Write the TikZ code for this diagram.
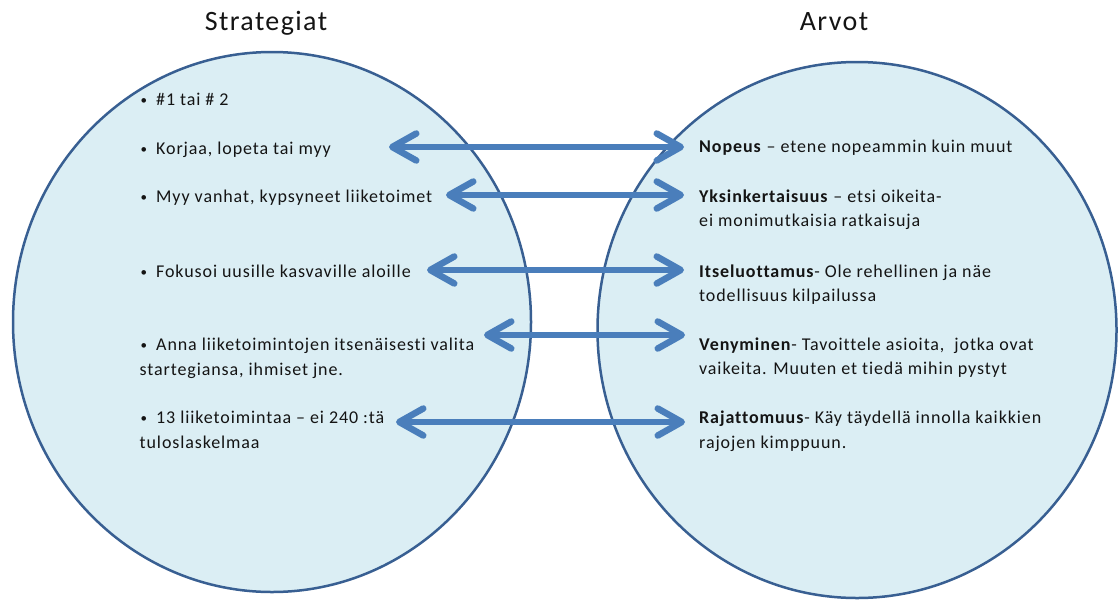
\documentclass[tikz,border=0pt]{standalone}
\usepackage{fontspec}
\setmainfont{Carlito}[LetterSpace=5,Ligatures=NoCommon]
\usetikzlibrary{arrows.meta,shapes.geometric}
\definecolor{bubblefill}{HTML}{DBEEF4}
\definecolor{bubbleedge}{HTML}{385F92}
\definecolor{linkblue}{HTML}{4A7EBB}
\definecolor{ink}{HTML}{141414}
% small bullet followed by a fixed gap before the item text
\newcommand\itembullet{\makebox[16.5pt][l]{\hspace{1pt}\fontsize{13}{13}\selectfont\raisebox{1pt}{\textbullet}}}
\begin{document}
\begin{tikzpicture}[x=1pt,y=-1pt,
  bubble/.style={ellipse, draw=bubbleedge, fill=bubblefill, line width=2.5pt, inner sep=0pt},
  heading/.style={font=\fontsize{28}{32}\selectfont, anchor=base, inner sep=0pt, text=ink},
  entry/.style={font=\fontsize{18}{24.5}\selectfont, anchor=base west, inner sep=0pt, text=ink},
  linktip/.tip={Straight Barb[length=24pt,width=27pt,round]},
  link/.style={draw=linkblue, line width=6.5pt, {linktip}-{linktip}},
]
\useasboundingbox (0,0) rectangle (1118,600);

% the two circles
\node[bubble, minimum width=518pt, minimum height=540pt] (strategies) at (272,322) {};
\node[bubble, minimum width=519pt, minimum height=536pt] (values) at (857,330) {};

% headings
\node[heading] (headS) at (266,30) {Strategiat};
\node[heading] (headA) at (834,30) {Arvot};

% strategies
\node[entry] (s0) at (139.5,105) {\itembullet\#1 tai \# 2};
\node[entry] (s1) at (139.5,154) {\itembullet Korjaa, lopeta tai myy};
\node[entry] (s2) at (139.5,202.5) {\itembullet Myy vanhat, kypsyneet liiketoimet};
\node[entry] (s3) at (139.5,277) {\itembullet Fokusoi uusille kasvaville aloille};
\node[entry] (s4) at (139.5,350.5) {\begin{tabular}[t]{@{}l@{}}\itembullet Anna liiketoimintojen itsenäisesti valita\\startegiansa, ihmiset jne.\end{tabular}};
\node[entry] (s5) at (139.5,423.5) {\begin{tabular}[t]{@{}l@{}}\itembullet 13 liiketoimintaa – ei 240 :tä\\tuloslaskelmaa\end{tabular}};

% values
\node[entry] (v1) at (699,152) {\textbf{Nopeus} – etene nopeammin kuin muut};
\node[entry] (v2) at (699,202) {\begin{tabular}[t]{@{}l@{}}\textbf{Yksinkertaisuus} – etsi oikeita-\\ei monimutkaisia ratkaisuja\end{tabular}};
\node[entry] (v3) at (699,277) {\begin{tabular}[t]{@{}l@{}}\textbf{Itseluottamus}- Ole rehellinen ja näe\\todellisuus kilpailussa\end{tabular}};
\node[entry] (v4) at (699,350) {\begin{tabular}[t]{@{}l@{}}\textbf{Venyminen}- Tavoittele asioita,\ \ jotka ovat\\vaikeita. Muuten et tiedä mihin pystyt\end{tabular}};
\node[entry] (v5) at (699,423.5) {\begin{tabular}[t]{@{}l@{}}\textbf{Rajattomuus}- Käy täydellä innolla kaikkien\\rajojen kimppuun.\end{tabular}};

% arrow ends
\coordinate (l1) at (389,147);  \coordinate (r1) at (684,147);
\coordinate (l2) at (446,195);  \coordinate (r2) at (684,195);
\coordinate (l3) at (427,270);  \coordinate (r3) at (684,270);
\coordinate (l4) at (484,335);  \coordinate (r4) at (685,335);
\coordinate (l5) at (396,422);  \coordinate (r5) at (685,422);

\draw[link] (l1) -- (r1);
\draw[link] (l2) -- (r2);
\draw[link] (l3) -- (r3);
\draw[link] (l4) -- (r4);
\draw[link] (l5) -- (r5);
\end{tikzpicture}
\end{document}
